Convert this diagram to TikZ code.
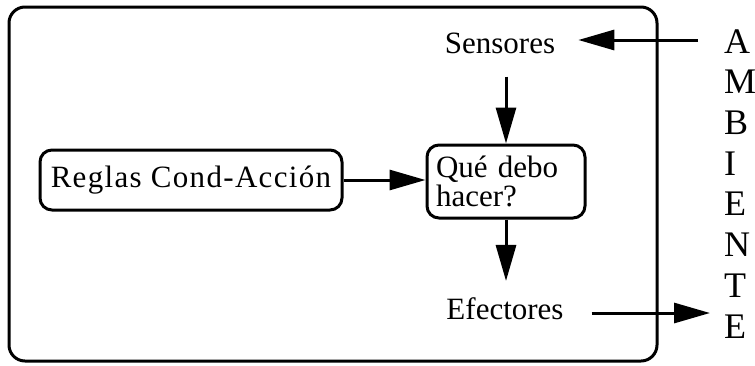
\documentclass[tikz,border=0pt]{standalone}
\usepackage{fontspec}
\setmainfont{Liberation Serif}
\usetikzlibrary{arrows.meta,calc}
\tikzset{
    agente/.style = {rectangle,
                    rounded corners=16pt,
                    draw=black,
                    line width=3pt,
                    minimum width=648pt,
                    minimum height=354pt},
    caja/.style =   {rectangle,
                    rounded corners=12pt,
                    fill=white,
                    draw=black,
                    text=black,
                    line width=3pt,
                    font=\fontsize{31}{29}\selectfont},
    texto/.style =  {text=black,
                    anchor=base,
                    font=\fontsize{31}{29}\selectfont},
    letras/.style = {text=black,
                    anchor=base west,
                    align=left,
                    inner sep=0pt,
                    font=\fontsize{36}{40.7}\selectfont},
    flecha/.style = {->,
                    line width=3pt},
    -,
    >={Triangle[length=36pt,width=20pt]},
    shorten >= 0pt,
    shorten <= 0pt}

\begin{document}
\begin{tikzpicture}[x=1pt,y=-1pt]
            \useasboundingbox (0,0) rectangle (755,365);

            \node[agente]                   (AGT) at (333,184)     {};
            \node[texto, inner sep=23pt]    (SEN) at (500,53)      {Sensores};
            \node[texto, inner sep=16pt]    (EFE) at (505,319)     {Efectores};
            \node[caja, minimum width=302pt, minimum height=60pt,
                  font=\fontsize{31}{29}\selectfont\addfontfeatures{LetterSpace=4.3}]
                                            (RCA) at (191,180)     {Reglas Cond-Acción};
            \node[caja, text width=140pt, inner xsep=9pt, minimum height=73pt, align=left]
                                            (QDH) at (506,181.5)   {Qué debo\\hacer?};
            \node[letras]                   (AMB) at (724,338)     {A\\M\\B\\I\\E\\N\\T\\E};

            \coordinate (AIN)  at (698,40);
            \coordinate (AOUT) at (710,313);

            \draw[flecha]  (AIN) -- (AIN -| SEN.east);
            \draw[flecha]  (SEN.south -| QDH.north) -- (QDH.north);
            \draw[flecha]  (RCA.east) -- (RCA.east -| QDH.west);
            \draw[flecha]  (QDH.south) -- (EFE.north -| QDH.south);
            \draw[flecha, shorten <=12pt]  (EFE.east |- AOUT) -- (AOUT);
        \end{tikzpicture}
\end{document}
